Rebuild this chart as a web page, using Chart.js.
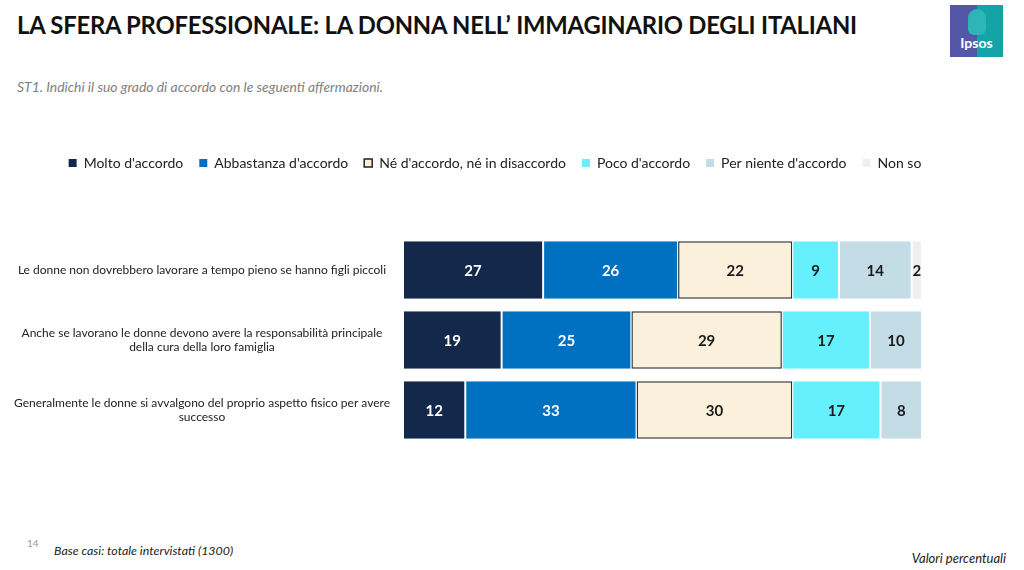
<!DOCTYPE html>
<html>
<head>
<meta charset="utf-8">
<script src="https://cdn.jsdelivr.net/npm/chart.js@4/dist/chart.umd.min.js"></script>
<style>
  html, body { margin: 0; padding: 0; background: #fff; }
  body { width: 1024px; height: 570px; position: relative; overflow: hidden; font-family: Lato, "Open Sans", sans-serif; }
  #title { position: absolute; left: 17px; top: 11px; font-size: 23.8px; font-weight: bold; color: #111; white-space: nowrap; letter-spacing: -0.2px; }
  #subtitle { position: absolute; left: 17px; top: 78px; font-size: 13.9px; font-style: italic; color: #808080; white-space: nowrap; }
  #pagenum { position: absolute; left: 27px; top: 537px; font-size: 10px; color: #999; }
  #base { position: absolute; left: 54px; top: 543px; font-size: 12.4px; font-style: italic; color: #222; white-space: nowrap; }
  #valori { position: absolute; right: 18px; top: 550px; font-size: 13px; font-style: italic; color: #222; white-space: nowrap; }
  #logo { position: absolute; left: 950px; top: 5px; width: 53px; height: 52px; overflow: hidden;
          background: linear-gradient(90deg, #5257a8 0%, #5257a8 50%, #14a3a6 50%, #14a3a6 100%); }
  #logo .head { position: absolute; left: 18px; top: 4px; width: 18px; height: 26px; border-radius: 9px 9px 6px 6px; background: #2db5b8; }
  #logo .txt { position: absolute; left: 0; width: 53px; top: 29px; text-align: center; color: #fff; font-weight: bold; font-size: 14px; }
  #wrap { position: absolute; left: 0; top: 0; width: 1024px; height: 570px; }
</style>
</head>
<body>
<div id="title">LA SFERA PROFESSIONALE: LA DONNA NELL’ IMMAGINARIO DEGLI ITALIANI</div>
<div id="subtitle">ST1. Indichi il suo grado di accordo con le seguenti affermazioni.</div>
<div id="logo"><div class="head"></div><div class="txt">Ipsos</div></div>
<div id="pagenum">14</div>
<div id="base">Base casi: totale intervistati (1300)</div>
<div id="valori">Valori percentuali</div>
<div id="wrap"><canvas id="c" width="1024" height="570"></canvas></div>
<script>
const categories = [
  "Le donne non dovrebbero lavorare a tempo pieno se hanno figli piccoli",
  ["Anche se lavorano le donne devono avere la responsabilità principale", "della cura della loro famiglia"],
  ["Generalmente le donne si avvalgono del proprio aspetto fisico per avere", "successo"]
];
const seriesNames = ["Molto d'accordo", "Abbastanza d'accordo", "Né d'accordo, né in disaccordo", "Poco d'accordo", "Per niente d'accordo", "Non so"];
const molto = [27, 19, 12];
const abbastanza = [26, 25, 33];
const neutro = [22, 29, 30];
const poco = [9, 17, 17];
const perNiente = [14, 10, 8];
const nonSo = [2, 0, 0];

const colors = ["#13284a", "#0070c0", "#fbf0dc", "#66f0fd", "#c4dce6", "#efefef"];
const labelColors = ["#ffffff", "#ffffff", "#1a1a1a", "#1a1a1a", "#1a1a1a", "#1a1a1a"];
const seriesValues = [molto, abbastanza, neutro, poco, perNiente, nonSo];

const datasets = seriesValues.map((vals, i) => {
  const isNeutral = i === 2;
  return {
    label: seriesNames[i],
    data: vals,
    backgroundColor: colors[i],
    borderColor: isNeutral ? "#333333" : "#ffffff",
    borderWidth: isNeutral ? 1.5 : { left: 1, right: 1, top: 0, bottom: 0 },
    borderSkipped: false,
    categoryPercentage: 0.82,
    barPercentage: 1.0
  };
});

const valueLabels = {
  id: "valueLabels",
  afterDatasetsDraw(chart) {
    const ctx = chart.ctx;
    ctx.save();
    ctx.font = "bold 15px Lato, 'Open Sans', sans-serif";
    ctx.textAlign = "center";
    ctx.textBaseline = "middle";
    chart.data.datasets.forEach((ds, di) => {
      const meta = chart.getDatasetMeta(di);
      meta.data.forEach((el, idx) => {
        const v = ds.data[idx];
        if (!v) return;
        ctx.fillStyle = labelColors[di];
        ctx.fillText(String(v), (el.x + el.base) / 2, el.y + 1);
      });
    });
    ctx.restore();
  }
};

// keep the legend centred over the 68..922 band without wrapping
const legendShift = {
  id: "legendShift",
  beforeDraw(chart) {
    if (chart.legend) {
      chart.legend.left = -34;
      chart.legend.right = 1024;
      chart.legend.width = 1058;
    }
  }
};

new Chart(document.getElementById("c"), {
  type: "bar",
  data: { labels: categories, datasets },
  options: {
    indexAxis: "y",
    responsive: false,
    animation: false,
    layout: { padding: { left: 0, right: 0, top: 140, bottom: 125 } },
    plugins: {
      legend: {
        position: "top",
        align: "center",
        labels: {
          boxWidth: 8, boxHeight: 8, padding: 16,
          color: "#222",
          font: { family: "Lato, 'Open Sans', sans-serif", size: 14 },
          generateLabels(chart) {
            return chart.data.datasets.map((ds, i) => ({
              text: ds.label,
              fillStyle: colors[i],
              strokeStyle: i === 2 ? "#222" : colors[i],
              lineWidth: i === 2 ? 1.5 : 0,
              fontColor: "#222",
              datasetIndex: i,
              hidden: false
            }));
          }
        }
      },
      tooltip: { enabled: false }
    },
    scales: {
      x: {
        position: "top",
        stacked: true, min: 0, max: 100,
        grid: { display: false }, border: { display: false },
        ticks: { display: false },
        afterFit(axis) { axis.height = 55; }
      },
      y: {
        stacked: true,
        grid: { display: false, drawTicks: false }, border: { display: false },
        ticks: {
          crossAlign: "center", padding: 13, color: "#222",
          font: { family: "Lato, 'Open Sans', sans-serif", size: 12 }
        },
        afterFit(axis) { axis.width = 403; }
      },
      yRight: {
        type: "category",
        position: "right",
        grid: { display: false, drawTicks: false }, border: { display: false },
        ticks: { display: false },
        afterFit(axis) { axis.width = 102; }
      }
    }
  },
  plugins: [valueLabels, legendShift]
});
</script>
</body>
</html>
